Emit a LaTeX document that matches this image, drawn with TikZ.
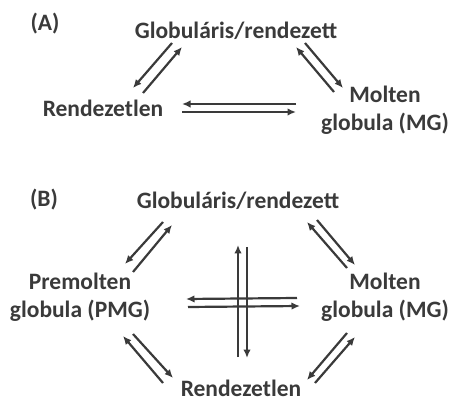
\documentclass[tikz,border=0pt]{standalone}
\usepackage{fontspec}
\setmainfont{Carlito}
\usepackage{tikz}
\usetikzlibrary{calc}
\usetikzlibrary{arrows.meta}
\tikzset{>={Latex[width=7.5pt,length=8.5pt]}}
\definecolor{ink}{HTML}{3A3A3A}

\begin{document}
\begin{tikzpicture}[
    x = 1pt, y = -1pt,
    state/.style = {text = ink, inner sep = 0pt, align = center,
        font = \fontsize{23.5}{28}\selectfont\bfseries},
    rxn/.style = {draw = ink, line width = 2.2pt, ->}
  ]
  \useasboundingbox (0,0) rectangle (453,401);

  % (A)
  \node[state] (labA) at (45,24)  {(A)};
  \node[state] (gA)   at (236,31) {Globuláris/rendezett};
  \node[state] (rA)   at (103,108) {Rendezetlen};
  \node[state] (mA)   at (385,110) {Molten\\globula (MG)};

  \foreach \a/\da/\b/\db in {gA/{-64,12}/rA/{30,-20}, rA/{40,-15}/gA/{-54,16},
      mA/{-51,-18}/gA/{60,16}, gA/{69,12}/mA/{-42,-22},
      mA/{-89,-6}/rA/{79,-4}, rA/{79,4}/mA/{-89,2}}
  \draw[rxn] ($(\a)+(\da)$) -- ($(\b)+(\db)$);

  % (B)
  \node[state] (labB) at (44,200)  {(B)};
  \node[state] (gB)   at (238,201) {Globuláris/rendezett};
  \node[state] (pB)   at (80,297)  {Premolten\\globula (PMG)};
  \node[state] (mB)   at (385,297) {Molten\\globula (MG)};
  \node[state] (rB)   at (241,388) {Rendezetlen};

  \foreach \a/\da/\b/\db in {gB/{-75,21}/pB/{45,-33}, pB/{53,-25}/gB/{-66,24},
      mB/{-38,-29}/gB/{69,21}, gB/{79,19}/mB/{-30,-32},
      rB/{-78,-5}/pB/{43,39}, pB/{53,37}/rB/{-68,-10},
      mB/{-38,36}/rB/{66,-8}, rB/{74,-5}/mB/{-30,40},
      rB/{-3,-31}/gB/{0,44}, gB/{9,46}/rB/{6,-30},
      mB/{-88,1}/pB/{106,2}, pB/{108,10}/mB/{-85,9}}
  \draw[rxn] ($(\a)+(\da)$) -- ($(\b)+(\db)$);
\end{tikzpicture}
\end{document}
